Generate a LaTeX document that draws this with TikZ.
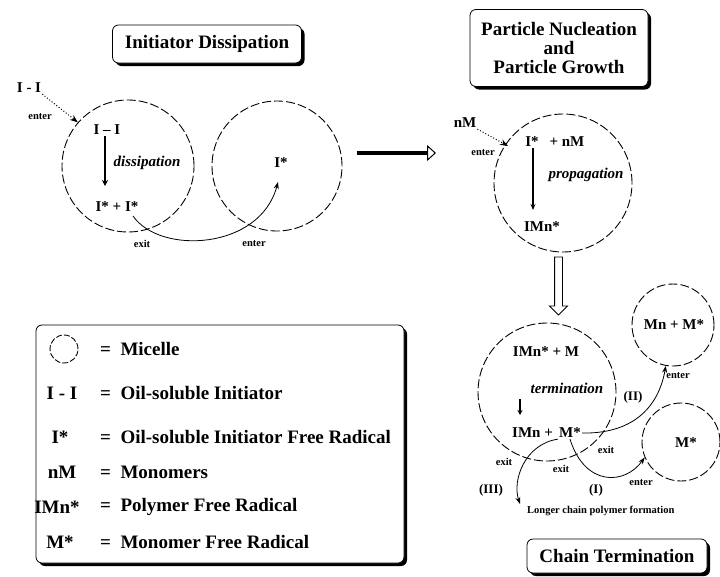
\documentclass[tikz,border=0pt]{standalone}
\usepackage{fontspec}
\setmainfont{Liberation Serif}
\usetikzlibrary{shapes.arrows,shadows,arrows.meta}
\tikzset{
 micelle/.style={circle, draw, dash pattern=on 9pt off 3pt, line width=0.9pt, inner sep=0pt},
 titlebox/.style={draw, line width=0.8pt, rounded corners=6pt, fill=white, inner sep=0pt,
   drop shadow={shadow xshift=3pt, shadow yshift=-3pt, fill=black, opacity=1},
   font=\fontsize{19}{19}\selectfont\bfseries, align=center},
 chem/.style={font=\fontsize{15}{15}\selectfont\bfseries, inner sep=1pt},
 proc/.style={font=\fontsize{15}{15}\selectfont\bfseries\itshape, inner sep=1pt},
 tinylab/.style={font=\fontsize{10.5}{10.5}\selectfont\bfseries, inner sep=1pt},
 roman/.style={font=\fontsize{13}{13}\selectfont\bfseries, inner sep=1pt},
 legsym/.style={font=\fontsize{19}{19}\selectfont\bfseries, inner sep=0pt},
 legtext/.style={font=\fontsize{19}{19}\selectfont\bfseries, anchor=west, inner sep=0pt},
 conn/.style={line width=0.8pt, -{Stealth[length=7pt,width=5pt]}},
 dotconn/.style={line width=1pt, dotted, -{Stealth[length=8pt,width=6pt]}},
}
\begin{document}
\begin{tikzpicture}[x=1pt,y=-1pt]
\useasboundingbox (0,0) rectangle (720,576);

% titles
\node[titlebox, minimum width=189pt, minimum height=38pt] (t1) at (207,44) {Initiator Dissipation};
\node[titlebox, minimum width=178pt, minimum height=77pt] (t2) at (559,48) {Particle Nucleation\\and\\Particle Growth};
\node[titlebox, minimum width=180pt, minimum height=34pt] (t3) at (617,556) {Chain Termination};

% ---- initiator dissipation
\node[micelle, minimum size=132pt] (c1) at (128,166) {};
\node[micelle, minimum size=130pt] (c2) at (277,166) {};
\node[chem] (ii0) at (29,88) {I - I};
\node[tinylab] (en0) at (40,117) {enter};
\draw[dotconn] (ii0.south east) -- (c1.139);
\node[chem] (ii1) at (107,130) {I -- I};
\coordinate (d1) at (105,186);
\draw[line width=2.6pt, -{Stealth[length=6pt,width=6pt]}] (ii1.south -| d1) -- (d1);
\node[proc] (diss) at (147,163) {dissipation};
\node[chem] (ipi) at (117,207) {I* + I*};
\node[chem] (is2) at (281,163) {I*};
\coordinate (a0) at (133,216);
\coordinate (a1) at (278,182);
\draw[conn] (a0) .. controls (160,255) and (260,250) .. (a1);
\node[tinylab] (ex1) at (142,244) {exit};
\node[tinylab] (en1) at (254,244) {enter};

% big arrow
\coordinate (b0) at (357,153);
\coordinate (b1) at (436,153);
\draw[line width=4pt, -{Triangle[open, length=9pt, width=16pt, line width=1pt]}] (b0) -- (b1);

% ---- particle nucleation
\node[micelle, minimum size=138pt] (c3) at (563,183) {};
\node[chem] (nm) at (465,123) {nM};
\node[tinylab] (en2) at (483,153) {enter};
\coordinate (n1) at (508,146);
\draw[dotconn] (nm.south east) -- (n1);
\node[chem] (is3) at (532,142) {I*};
\node[chem] (nm3) at (567,142) {+ nM};
\node[chem] (imn3) at (542,227) {IMn*};
\coordinate (p1) at (533,210);
\draw[line width=1.2pt, -{Stealth[length=6pt,width=5pt]}] (is3.south -| p1) -- (p1);
\node[proc] (prop) at (586,175) {propagation};

% hollow down arrow
\node[draw, fill=white, line width=0.9pt, single arrow, shape border rotate=270,
      minimum height=58pt, inner sep=3.5pt, single arrow head extend=5pt,
      single arrow head indent=0pt] (da) at (558.5,284) {};

% ---- chain termination
\node[micelle, minimum size=138pt] (c4) at (547,392) {};
\node[micelle, minimum size=82pt] (c5) at (673,325) {};
\node[micelle, minimum size=78pt] (c6) at (681,442) {};
\node[chem] (imnm) at (546,352) {IMn* + M};
\node[proc] (term) at (567,388) {termination};
\coordinate (k0) at (520,399);
\coordinate (k1) at (520,415);
\draw[line width=2.2pt, -{Stealth[length=5pt,width=5pt]}] (k0) -- (k1);
\node[chem, anchor=west] (imn4) at (511,433) {IMn +};
\node[chem] (ms4) at (570,433) {M*};
\node[chem] (mnm) at (674,325) {Mn + M*};
\node[chem] (ms6) at (686,443) {M*};

% (III)
\coordinate (e3) at (520,504);
\draw[conn] (ms4.south west) .. controls (525,444) and (512,480) .. (e3);
\node[tinylab] (ex3) at (504,462) {exit};
\node[roman] (r3) at (491,490) {(III)};
\node[tinylab, anchor=west] (dead) at (526,511) {Longer chain polymer formation};

% (I)
\draw[conn] (ms4.south) .. controls (585,487) and (625,485) .. (c6.203);
\node[tinylab] (exA) at (561,469) {exit};
\node[roman] (r1) at (596,490) {(I)};
\node[tinylab] (enA) at (641,483) {enter};

% (II)
\draw[conn] (ms4.east) .. controls (630,434) and (658,410) .. (c5.260);
\node[tinylab] (exB) at (606,450) {exit};
\node[roman] (r2) at (633,397) {(II)};
\node[tinylab] (enB) at (678,376) {enter};

% ---- legend
\node[draw, line width=0.8pt, rounded corners=6pt, fill=white, minimum width=368pt, minimum height=238pt,
      drop shadow={shadow xshift=3pt, shadow yshift=-3pt, fill=black, opacity=1}] (legend) at (220,444) {};
\node[micelle, minimum size=28pt, dash pattern=on 6pt off 2pt] (lc) at (64,349) {};
\node[legsym] (l2) at (62,393) {I - I};
\node[legsym] (l3) at (60,437) {I*};
\node[legsym] (l4) at (62,472) {nM};
\node[legsym] (l5) at (57,507) {IMn*};
\node[legsym] (l6) at (60,542) {M*};
\node[legtext] (d1t) at (100,349) {= \ Micelle};
\node[legtext] (d2t) at (100,393) {= \ Oil-soluble Initiator};
\node[legtext] (d3t) at (100,437) {= \ Oil-soluble Initiator Free Radical};
\node[legtext] (d4t) at (100,472) {= \ Monomers};
\node[legtext] (d5t) at (100,507) {= \ Polymer Free Radical};
\node[legtext] (d6t) at (100,542) {= \ Monomer Free Radical};
\end{tikzpicture}
\end{document}
